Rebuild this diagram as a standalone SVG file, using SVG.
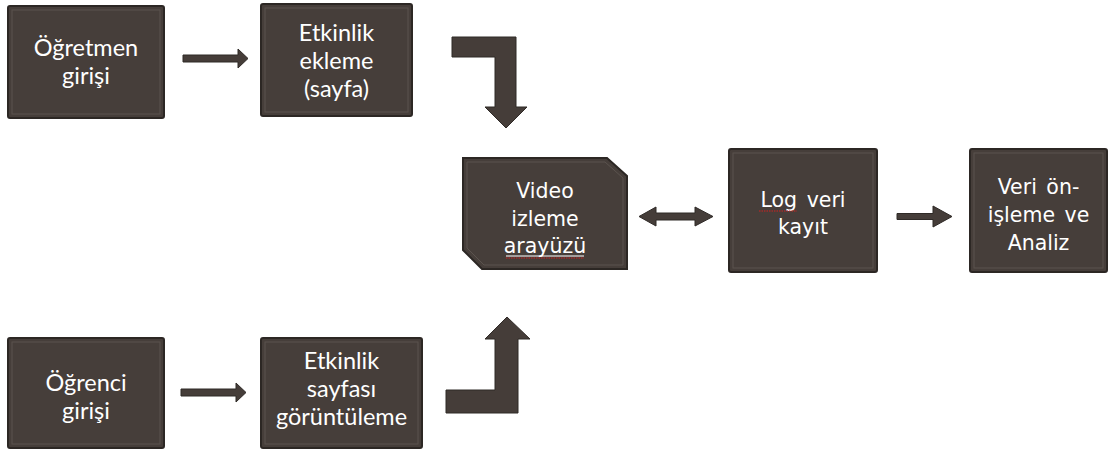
<svg xmlns="http://www.w3.org/2000/svg" width="1111" height="453" viewBox="0 0 1111 453">
<style>
.box{fill:#463e3a;stroke:#2c2724;stroke-width:2}
.inner{fill:none;stroke:#5b534e;stroke-width:1}
.arr{fill:#453d39;stroke:#2f2a27;stroke-width:1}
.tl{font-family:Lato,"Open Sans",sans-serif;font-size:23.5px;fill:#ffffff;text-anchor:middle}
.tr{font-family:"DejaVu Sans",Verdana,sans-serif;font-size:20.5px;fill:#ffffff;text-anchor:middle;word-spacing:3px}
.sq{fill:none;stroke:#d02020;stroke-width:1;stroke-dasharray:1.5 1}
</style>
<rect width="1111" height="453" fill="#ffffff"/>
<g id="connectors">
<path class="arr" d="M183,55 L238,55 L238,49 L248,58.5 L238,68 L238,62 L183,62 Z"/>
<path class="arr" d="M181,389 L236,389 L236,383 L246,392.5 L236,402 L236,396 L181,396 Z"/>
<path class="arr" d="M452,37 L516,37 L516,107 L527,107 L506,128 L485,107 L495,107 L495,57 L452,57 Z"/>
<path class="arr" d="M446,413 L518,413 L518,339 L530,339 L507,317 L485,339 L495,339 L495,390 L446,390 Z"/>
<path class="arr" d="M639,216.5 L656,207 L656,213 L695,213 L695,207 L713,216.5 L695,226 L695,220 L656,220 L656,226 Z"/>
<path class="arr" d="M897,213.5 L933,213.5 L933,206 L952,216.5 L933,227 L933,219.5 L897,219.5 Z"/>
</g>
<g id="n-ogretmen">
<rect class="box" x="8" y="6" width="156" height="112" rx="2"/>
<rect class="inner" x="12" y="10" width="148" height="104"/>
<text class="tl" x="86" y="56">Öğretmen</text>
<text class="tl" x="86" y="84">girişi</text>
</g>
<g id="n-etkinlik-ekleme">
<rect class="box" x="261" y="4" width="151" height="112" rx="2"/>
<rect class="inner" x="265" y="8" width="143" height="104"/>
<text class="tl" x="336.5" y="41">Etkinlik</text>
<text class="tl" x="336.5" y="69">ekleme</text>
<text class="tl" x="336.5" y="97">(sayfa)</text>
</g>
<g id="n-ogrenci">
<rect class="box" x="8" y="338" width="156" height="110" rx="2"/>
<rect class="inner" x="12" y="342" width="148" height="102"/>
<text class="tl" x="86" y="391">Öğrenci</text>
<text class="tl" x="86" y="419">girişi</text>
</g>
<g id="n-etkinlik-sayfasi">
<rect class="box" x="261" y="338" width="161" height="110" rx="2"/>
<rect class="inner" x="265" y="342" width="153" height="102"/>
<text class="tl" x="341.5" y="369">Etkinlik</text>
<text class="tl" x="341.5" y="397">sayfası</text>
<text class="tl" x="341.5" y="425">görüntüleme</text>
</g>
<g id="n-video">
<path class="box" d="M463,158 L607,158 L627,176 L627,269 L482,269 L463,250 Z"/>
<path class="inner" d="M467,162 L605,162 L623,178 L623,265 L484,265 L467,248 Z"/>
<text class="tr" x="545" y="198">Video</text>
<text class="tr" x="545" y="226">izleme</text>
<text class="tr" x="545" y="253">arayüzü</text>
<line x1="506" y1="256" x2="584" y2="256" stroke="#ffffff" stroke-width="1"/>
<line class="sq" x1="506" y1="258" x2="584" y2="258"/>
</g>
<g id="n-log">
<rect class="box" x="729" y="149" width="148" height="123" rx="2"/>
<rect class="inner" x="733" y="153" width="140" height="115"/>
<text class="tr" x="803" y="207">Log veri</text>
<text class="tr" x="803" y="234">kayıt</text>
<line class="sq" x1="759" y1="211" x2="797" y2="211"/>
</g>
<g id="n-veri">
<rect class="box" x="970" y="149" width="137" height="123" rx="2"/>
<rect class="inner" x="974" y="153" width="129" height="115"/>
<text class="tr" x="1038.5" y="194">Veri ön-</text>
<text class="tr" x="1038.5" y="222">işleme ve</text>
<text class="tr" x="1038.5" y="250">Analiz</text>
</g>
</svg>
